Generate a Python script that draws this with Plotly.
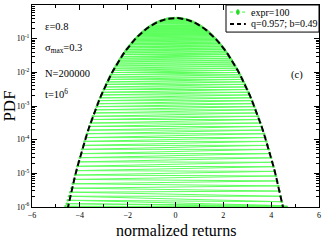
import numpy as np
import plotly.graph_objects as go

# ---- data (log10 of PDF) ----
log_pdf_right = [-0.388, -0.389, -0.392, -0.396, -0.401, -0.406, -0.413, -0.421, -0.431, -0.441,
                 -0.452, -0.464, -0.478, -0.492, -0.508, -0.524, -0.542, -0.561, -0.581, -0.602,
                 -0.625, -0.648, -0.673, -0.698, -0.725, -0.753, -0.783, -0.813, -0.845, -0.878,
                 -0.912, -0.947, -0.984, -1.022, -1.062, -1.102, -1.144, -1.186, -1.231, -1.277,
                 -1.324, -1.372, -1.423, -1.474, -1.527, -1.581, -1.637, -1.694, -1.753, -1.813,
                 -1.876, -1.939, -2.005, -2.072, -2.141, -2.211, -2.284, -2.357, -2.434, -2.511,
                 -2.591, -2.672, -2.757, -2.842, -2.931, -3.020, -3.113, -3.207, -3.305, -3.403,
                 -3.505, -3.608, -3.716, -3.824, -3.937, -4.051, -4.169, -4.288, -4.414, -4.540,
                 -4.671, -4.803, -4.941, -5.080, -5.226, -5.373, -5.527, -5.681, -5.843, -5.960,
                 -5.990, -5.990, -5.990]
log_pdf_left = [-0.389, -0.390, -0.393, -0.395, -0.402, -0.407, -0.412, -0.422, -0.430, -0.442,
                -0.453, -0.463, -0.479, -0.491, -0.509, -0.523, -0.543, -0.560, -0.582, -0.601,
                -0.626, -0.647, -0.674, -0.697, -0.726, -0.752, -0.784, -0.812, -0.846, -0.877,
                -0.913, -0.946, -0.985, -1.021, -1.063, -1.101, -1.145, -1.185, -1.232, -1.276,
                -1.325, -1.371, -1.424, -1.473, -1.528, -1.580, -1.638, -1.693, -1.754, -1.812,
                -1.877, -1.938, -2.006, -2.071, -2.142, -2.210, -2.285, -2.356, -2.435, -2.510,
                -2.592, -2.671, -2.758, -2.841, -2.932, -3.019, -3.114, -3.206, -3.306, -3.402,
                -3.506, -3.607, -3.717, -3.823, -3.938, -4.050, -4.170, -4.287, -4.415, -4.535,
                -4.660, -4.790, -4.920, -5.050, -5.180, -5.310, -5.440, -5.560, -5.680, -5.800,
                -5.900, -5.980]
bins_right = np.round(np.arange(1, len(log_pdf_right) + 1) * 0.05, 2)
bins_left = -np.round(np.arange(1, len(log_pdf_left) + 1) * 0.05, 2)

fit_x_half = np.round(np.arange(0.0, 4.65, 0.1), 2)
fit_log_half = [-0.387, -0.389, -0.396, -0.406, -0.421, -0.441, -0.464, -0.492, -0.524, -0.561,
                -0.602, -0.648, -0.698, -0.753, -0.813, -0.878, -0.947, -1.022, -1.102, -1.186,
                -1.277, -1.372, -1.474, -1.581, -1.694, -1.813, -1.939, -2.072, -2.211, -2.357,
                -2.511, -2.672, -2.842, -3.020, -3.207, -3.403, -3.608, -3.824, -4.051, -4.288,
                -4.540, -4.803, -5.080, -5.373, -5.681, -6.005, -6.340]

series_names = ["expr=100", "q=0.957; b=0.49"]
y_tickvals = [1e-6, 1e-5, 1e-4, 1e-3, 1e-2, 1e-1, 1e0]
y_ticktext = ["10<sup>-6</sup>", "10<sup>-5</sup>", "10<sup>-4</sup>", "10<sup>-3</sup>",
              "10<sup>-2</sup>", "10<sup>-1</sup>", "10<sup>0</sup>"]
x_tickvals = [-6, -4, -2, 0, 2, 4, 6]

GREEN = "#33ff33"
FONT = "Liberation Serif, Times New Roman, serif"

# experimental curve: connect left and right bins alternately (zig-zag)
ex, ey = [], []
for k in range(max(len(log_pdf_left), len(log_pdf_right))):
    if k < len(log_pdf_left):
        ex.append(bins_left[k]); ey.append(10 ** log_pdf_left[k])
    if k < len(log_pdf_right):
        ex.append(bins_right[k]); ey.append(10 ** log_pdf_right[k])

fx = list(-fit_x_half[::-1]) + list(fit_x_half[1:])
fy = [10 ** v for v in (fit_log_half[::-1] + fit_log_half[1:])]

fig = go.Figure()
fig.add_trace(go.Scatter(x=ex, y=ey, mode="lines+markers", name=series_names[0],
                         line=dict(color="#11ff11", width=1), opacity=0.68,
                         marker=dict(color="#00dd00", size=2.5)))
fig.add_trace(go.Scatter(x=fx, y=fy, mode="lines", name=series_names[1],
                         line=dict(color="black", width=2, dash="6px,3px")))

ann = dict(xref="paper", yref="paper", showarrow=False, xanchor="left",
           font=dict(family=FONT, size=10.5, color="black"))
fig.add_annotation(x=0.04, y=0.93, text="ε=0.8", **ann)
fig.add_annotation(x=0.04, y=0.825, text="σ<sub>max</sub>=0.3", **ann)
fig.add_annotation(x=0.04, y=0.663, text="N=200000", **ann)
fig.add_annotation(x=0.04, y=0.56, text="t=10<sup>6</sup>", **ann)
fig.add_annotation(x=0.895, y=0.653, text="(c)", **ann)

# x-axis title placed as text below the tick labels
fig.add_annotation(x=0.5, y=-0.115, xref="paper", yref="paper", showarrow=False,
                   xanchor="center", yanchor="middle", text="normalized returns",
                   font=dict(family=FONT, size=16, color="black"))

# ---- hand-placed legend box (top right) ----
lx0, lx1, ly0, ly1 = 0.676, 1.0, 0.866, 1.0
fig.add_shape(type="rect", xref="paper", yref="paper", x0=lx0, x1=lx1, y0=ly0, y1=ly1,
              line=dict(color="black", width=1), fillcolor="white", layer="above")
rows = [0.965, 0.906]
fig.add_shape(type="line", xref="paper", yref="paper", x0=0.690, x1=0.745, y0=rows[0], y1=rows[0],
              line=dict(color=GREEN, width=1, dash="dot"), layer="above")
fig.add_shape(type="circle", xref="paper", yref="paper", x0=0.713, x1=0.722,
              y0=rows[0] - 0.012, y1=rows[0] + 0.012,
              line=dict(color="#22dd22", width=1), fillcolor="#22dd22", layer="above")
fig.add_shape(type="line", xref="paper", yref="paper", x0=0.690, x1=0.745, y0=rows[1], y1=rows[1],
              line=dict(color="black", width=2, dash="4px,3px"), layer="above")
for r, name in zip(rows, series_names):
    fig.add_annotation(x=0.757, y=r, xref="paper", yref="paper", showarrow=False,
                       xanchor="left", yanchor="middle", text=name,
                       font=dict(family=FONT, size=10, color="black"))

fig.update_layout(
    width=324, height=242,
    margin=dict(l=32, r=3, t=5, b=35),
    paper_bgcolor="white", plot_bgcolor="white",
    font=dict(family=FONT, color="black", size=8),
    showlegend=False,
)
fig.update_xaxes(range=[-6, 6], tickvals=x_tickvals, ticks="inside", ticklen=5,
                 tickcolor="black", showline=True, linecolor="black", linewidth=1,
                 mirror="allticks", showgrid=False, zeroline=False,
                 minor=dict(ticks="inside", dtick=1, ticklen=3, tickcolor="black"),
                 tickfont=dict(family=FONT, size=8))
fig.update_yaxes(type="log", range=[-6, 0], tickvals=y_tickvals, ticktext=y_ticktext,
                 ticks="inside", ticklen=5, tickcolor="black", showline=True,
                 linecolor="black", linewidth=1, mirror="allticks", showgrid=False,
                 minor=dict(ticks="inside", dtick="D1", ticklen=3, tickcolor="black"),
                 title=dict(text="PDF", font=dict(family=FONT, size=17), standoff=2),
                 tickfont=dict(family=FONT, size=8))

fig.write_html("out.html", config={"displayModeBar": False},
               post_script="document.body.style.margin='0';document.body.style.overflow='hidden';")
